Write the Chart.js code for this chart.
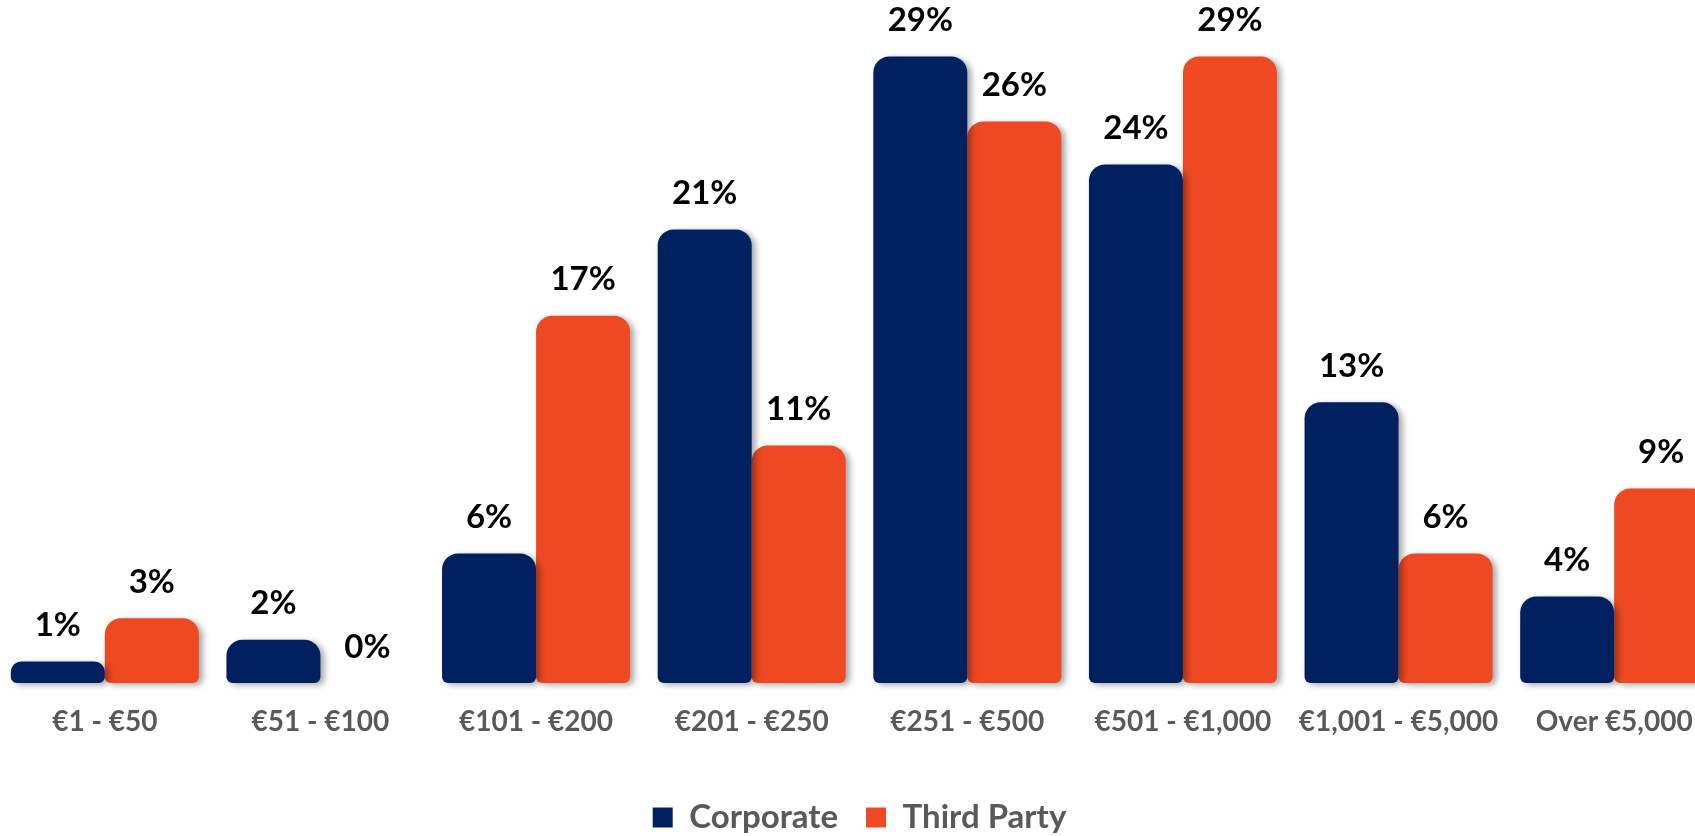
<!DOCTYPE html>
<html>
<head>
<meta charset="utf-8">
<title>Spend per transaction</title>
<script src="https://cdn.jsdelivr.net/npm/chart.js@4/dist/chart.umd.min.js"></script>
<style>
  html, body { margin: 0; padding: 0; background: #fff; overflow: hidden; }
  /* chart is a little wider than the window, so the last group runs off the right edge */
  #wrap { position: absolute; left: -3px; top: 0; width: 1725px; height: 844px; }
</style>
</head>
<body>
<div id="wrap"><canvas id="spend-chart"></canvas></div>
<script>
const categories = ['€1 - €50', '€51 - €100', '€101 - €200', '€201 - €250', '€251 - €500', '€501 - €1,000', '€1,001 - €5,000', 'Over €5,000'];
const corporate = [1, 2, 6, 21, 29, 24, 13, 4];
const thirdParty = [3, 0, 17, 11, 26, 29, 6, 9];

const NAVY = '#002060';
const ORANGE = '#EF4923';
const GREY = '#595959';

// soft drop shadow behind every bar
const barShadow = {
  id: 'barShadow',
  beforeDatasetsDraw(chart) {
    const c = chart.ctx;
    c.save();
    c.shadowColor = 'rgba(0,0,0,0.35)';
    c.shadowBlur = 6;
    c.shadowOffsetX = 4;
    c.shadowOffsetY = 2;
  },
  afterDatasetsDraw(chart) {
    chart.ctx.restore();
  }
};

// percentage above each bar
const barValueLabels = {
  id: 'barValueLabels',
  afterDatasetsDraw(chart) {
    const ctx = chart.ctx;
    ctx.save();
    ctx.font = 'bold 33px Lato';
    ctx.fillStyle = '#000';
    ctx.textAlign = 'center';
    ctx.textBaseline = 'middle';
    chart.data.datasets.forEach((ds, i) => {
      chart.getDatasetMeta(i).data.forEach((bar, j) => {
        ctx.fillText(ds.data[j] + '%', bar.x, bar.y - 36);
      });
    });
    ctx.restore();
  }
};

const barStyle = {
  borderRadius: { topLeft: 16, topRight: 16, bottomLeft: 6, bottomRight: 6 },
  borderSkipped: false,
  categoryPercentage: 0.872,
  barPercentage: 1.0,
  clip: false
};

const spendChart = new Chart(document.getElementById('spend-chart'), {
  type: 'bar',
  data: {
    labels: categories,
    datasets: [
      Object.assign({ label: 'Corporate', data: corporate, backgroundColor: NAVY }, barStyle),
      Object.assign({ label: 'Third Party', data: thirdParty, backgroundColor: ORANGE }, barStyle)
    ]
  },
  options: {
    responsive: true,
    maintainAspectRatio: false,
    animation: false,
    layout: {
      padding: { top: 35, left: 0, right: 0, bottom: 0 }
    },
    plugins: {
      legend: {
        position: 'bottom',
        labels: {
          boxWidth: 20,
          boxHeight: 20,
          padding: 28,
          color: GREY,
          font: { family: 'Lato', size: 33, weight: 'bold' }
        }
      },
      tooltip: { enabled: false }
    },
    scales: {
      x: {
        grid: { display: false },
        border: { display: false },
        ticks: {
          color: GREY,
          padding: 14,
          autoSkip: false,
          maxRotation: 0,
          font: { family: 'Lato', size: 28, weight: 'bold' }
        },
        afterFit(scale) {
          scale.height = 90;
        }
      },
      y: {
        display: false,
        min: 0,
        max: 30
      }
    }
  },
  plugins: [barShadow, barValueLabels]
});
</script>
</body>
</html>
